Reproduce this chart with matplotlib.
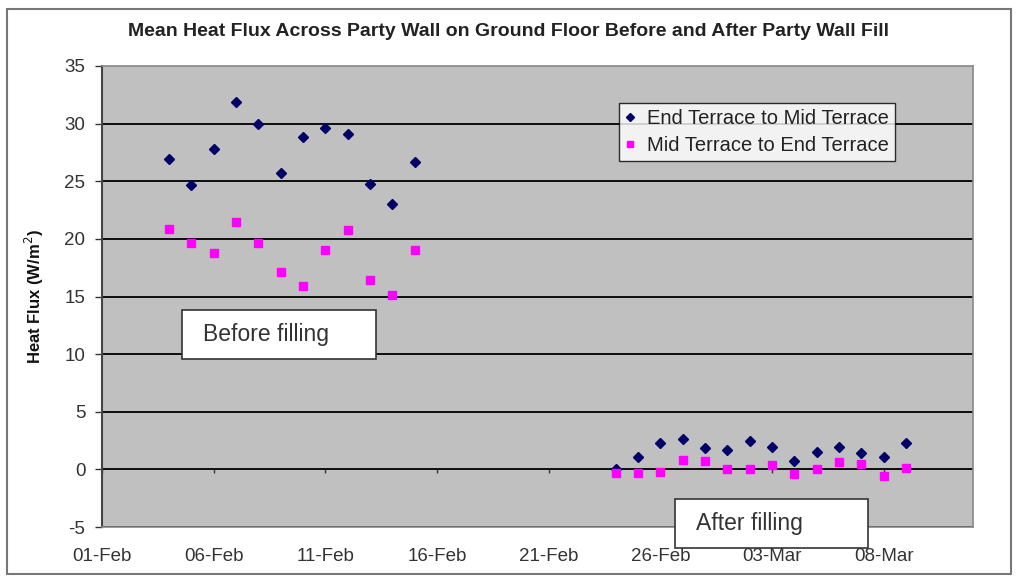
import matplotlib
matplotlib.use("Agg")
import matplotlib.pyplot as plt
import matplotlib.dates as mdates
from matplotlib.patches import Rectangle
import pandas as pd

# data
before_days = ["2009-02-04", "2009-02-05", "2009-02-06", "2009-02-07", "2009-02-08", "2009-02-09",
               "2009-02-10", "2009-02-11", "2009-02-12", "2009-02-13", "2009-02-14", "2009-02-15"]
before_end_mid = [26.9, 24.7, 27.8, 31.9, 30.0, 25.7, 28.8, 29.6, 29.1, 24.8, 23.0, 26.7]
before_mid_end = [20.9, 19.6, 18.8, 21.5, 19.6, 17.1, 15.9, 19.0, 20.8, 16.4, 15.1, 19.0]

after_days = ["2009-02-24", "2009-02-25", "2009-02-26", "2009-02-27", "2009-02-28", "2009-03-01",
              "2009-03-02", "2009-03-03", "2009-03-04", "2009-03-05", "2009-03-06", "2009-03-07",
              "2009-03-08", "2009-03-09"]
after_end_mid = [0.05, 1.1, 2.3, 2.6, 1.85, 1.65, 2.45, 1.9, 0.7, 1.55, 1.9, 1.45, 1.1, 2.3]
after_mid_end = [-0.3, -0.3, -0.2, 0.8, 0.7, 0.0, 0.0, 0.35, -0.4, 0.0, 0.6, 0.5, -0.6, 0.1]

days = pd.to_datetime(before_days + after_days)
end_mid = before_end_mid + after_end_mid
mid_end = before_mid_end + after_mid_end

x_start = pd.Timestamp("2009-02-01")
x_end = pd.Timestamp("2009-03-12")
tick_days = pd.to_datetime(["2009-02-01", "2009-02-06", "2009-02-11", "2009-02-16",
                            "2009-02-21", "2009-02-26", "2009-03-03", "2009-03-08"])

plt.rcParams['font.family'] = ['Liberation Sans', 'DejaVu Sans']
plt.rcParams['axes.unicode_minus'] = False
W, H = 1016, 581
fig = plt.figure(figsize=(W / 100, H / 100), dpi=100)
fig.patch.set_facecolor('white')

def fx(px):
    return px / W

def fy(py):
    return 1 - py / H

ax = fig.add_axes([fx(102), fy(527), fx(973) - fx(102), fy(66) - fy(527)])
ax.set_facecolor('#c0c0c0')

for yv in range(-5, 35, 5):
    ax.axhline(yv, color='black', lw=1.3, zorder=1)

ax.plot(days, end_mid, linestyle='none', marker='D', markersize=5.5,
        color='#000066', label='End Terrace to Mid Terrace', zorder=3)
ax.plot(days, mid_end, linestyle='none', marker='s', markersize=5.5,
        color='#ff00ff', label='Mid Terrace to End Terrace', zorder=3)

ax.set_xlim(x_start, x_end)
ax.set_ylim(-5, 35)
ax.set_yticks(range(-5, 40, 5))
ax.set_xticks(tick_days)
ax.xaxis.set_major_formatter(mdates.DateFormatter('%d-%b'))
ax.tick_params(axis='x', length=0, pad=15, labelsize=13.5, labelcolor='#333333')
ax.tick_params(axis='y', length=5, width=1, direction='out', pad=7, labelsize=13.5,
               labelcolor='#333333', color='#333333')

# small tick marks on the zero line
sec = ax.secondary_xaxis(location=5 / 40)
sec.set_xticks(tick_days)
sec.tick_params(axis='x', length=3, width=1, direction='out', labelbottom=False, color='#333333')
sec.spines['bottom'].set_visible(False)

for side in ['top', 'right', 'bottom']:
    ax.spines[side].set_color('#888888')
    ax.spines[side].set_linewidth(1.2)
ax.spines['left'].set_color('#444444')
ax.spines['left'].set_linewidth(1.5)

ax.set_ylabel('Heat Flux (W/m$^2$)', fontsize=12, fontweight='bold', labelpad=13, color='#111111')

fig.text(fx(508), fy(32), 'Mean Heat Flux Across Party Wall on Ground Floor Before and After Party Wall Fill',
         ha='center', va='center', fontsize=14, fontweight='bold', color='#222222')

leg = ax.legend(loc='upper left', bbox_to_anchor=(fx(619), fy(103)), bbox_transform=fig.transFigure,
                fontsize=14.5, frameon=True, fancybox=False, borderpad=0.3, handlelength=0.5,
                handletextpad=0.6, labelspacing=0.4, markerscale=0.75, borderaxespad=0)
leg.get_frame().set_edgecolor('black')
leg.get_frame().set_linewidth(1)
for t in leg.get_texts():
    t.set_color('#222222')

# annotation boxes
for (x0, y0, x1, y1, label) in [(182, 310, 376, 359, 'Before filling'), (675, 499, 868, 548, 'After filling')]:
    fig.patches.append(Rectangle((fx(x0), fy(y1)), fx(x1) - fx(x0), fy(y0) - fy(y1),
                                 transform=fig.transFigure, facecolor='white',
                                 edgecolor='#333333', lw=1.2, zorder=5))
    fig.text(fx(x0 + 21), fy((y0 + y1) / 2), label, ha='left', va='center', fontsize=16.5,
             color='#333333', zorder=6)

# outer chart border
fig.patches.append(Rectangle((fx(7), fy(574)), fx(1011) - fx(7), fy(9) - fy(574),
                             transform=fig.transFigure, facecolor='none',
                             edgecolor='#777777', lw=1.5))

fig.savefig('out.png', dpi=100)
